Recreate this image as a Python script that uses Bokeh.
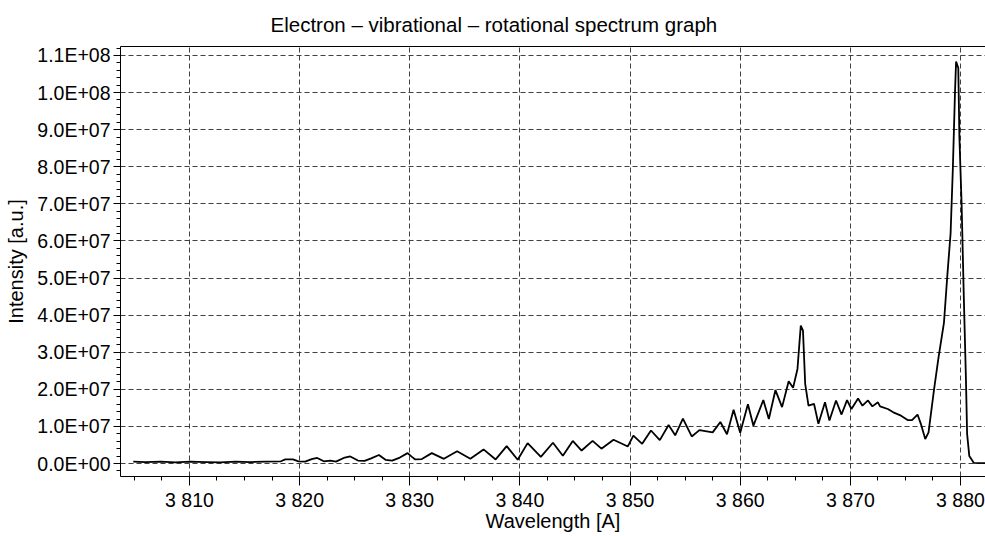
from bokeh.plotting import figure
from bokeh.models import FixedTicker, Range1d, LinearAxis
from bokeh.embed import file_html
from bokeh.resources import INLINE

# ---- data (wavelength in Angstrom, intensity in a.u.) ----
wavelength = [
    3804.9, 3806.0, 3807.4, 3808.7, 3810.1, 3811.5, 3812.8, 3814.2, 3815.5, 3816.9,
    3818.3, 3818.7, 3819.4, 3819.9, 3820.5, 3821.1, 3821.6, 3822.2, 3822.8, 3823.3,
    3824.0, 3824.6, 3825.3, 3825.9, 3826.5, 3827.2, 3827.8, 3828.4, 3829.1, 3829.8,
    3830.2, 3830.5, 3831.1, 3832.0, 3833.1, 3834.3, 3835.5, 3836.7, 3837.8, 3838.8,
    3839.8, 3840.7, 3841.9, 3843.0, 3843.9, 3844.8, 3845.6, 3846.6, 3847.4, 3848.5,
    3849.8, 3850.3, 3851.1, 3851.9, 3852.7, 3853.5, 3854.1, 3854.8, 3855.6, 3856.3,
    3857.5, 3858.2, 3858.8, 3859.4, 3860.0, 3860.7, 3861.2, 3862.1, 3862.6, 3863.2,
    3863.8, 3864.4, 3864.8, 3865.2, 3865.5, 3865.7, 3865.9, 3866.2, 3866.7, 3867.1,
    3867.7, 3868.1, 3868.7, 3869.2, 3869.7, 3870.1, 3870.7, 3871.1, 3871.6, 3872.0,
    3872.5, 3872.7, 3873.4, 3873.9, 3874.6, 3875.2, 3875.6, 3876.1, 3876.4, 3876.8,
    3877.1, 3877.6, 3878.0, 3878.5, 3878.8, 3879.1, 3879.3, 3879.5, 3879.6, 3879.8,
    3879.9, 3880.1, 3880.3, 3880.5, 3880.6, 3880.8, 3881.2, 3882.3,
]
intensity = [
    0.5e6, 0.4e6, 0.5e6, 0.3e6, 0.5e6, 0.4e6, 0.3e6, 0.5e6, 0.4e6, 0.5e6,
    0.6e6, 1.1e6, 1.1e6, 0.6e6, 0.5e6, 1.2e6, 1.5e6, 0.6e6, 0.8e6, 0.5e6,
    1.5e6, 1.9e6, 0.8e6, 0.7e6, 1.4e6, 2.3e6, 1.0e6, 0.8e6, 1.6e6, 2.8e6,
    1.8e6, 1.1e6, 1.2e6, 2.8e6, 1.26e6, 3.3e6, 1.26e6, 3.8e6, 1.1e6, 4.7e6,
    1.0e6, 5.5e6, 1.8e6, 5.6e6, 2.1e6, 6.1e6, 3.5e6, 6.1e6, 4.0e6, 6.4e6,
    4.6e6, 7.5e6, 5.3e6, 8.9e6, 6.3e6, 10.4e6, 7.6e6, 12.1e6, 7.3e6, 9.0e6,
    8.4e6, 11.2e6, 7.9e6, 14.5e6, 8.3e6, 16.0e6, 10.2e6, 17.1e6, 12.0e6, 19.8e6,
    15.2e6, 22.2e6, 20.4e6, 25.5e6, 37.2e6, 35.8e6, 21.5e6, 15.6e6, 16.1e6, 10.7e6,
    16.5e6, 11.6e6, 17.0e6, 13.2e6, 17.1e6, 14.7e6, 17.5e6, 15.6e6, 17.0e6, 15.4e6,
    16.5e6, 15.4e6, 14.7e6, 13.8e6, 12.9e6, 11.7e6, 11.7e6, 13.2e6, 10.7e6, 6.6e6,
    8.4e6, 20.0e6, 28.5e6, 38.0e6, 50.5e6, 62.0e6, 79.0e6, 100.0e6, 108.4e6, 106.6e6,
    88.0e6, 70.0e6, 45.0e6, 22.0e6, 8.0e6, 2.0e6, 0.2e6, 0.1e6,
]

x_ticks = [3810, 3820, 3830, 3840, 3850, 3860, 3870, 3880]
x_tick_labels = ["3 810", "3 820", "3 830", "3 840", "3 850", "3 860", "3 870", "3 880"]
x_minor_ticks = [3802.5 + 2.5 * i for i in range(33)]

y_ticks = [0, 10000000, 20000000, 30000000, 40000000, 50000000,
           60000000, 70000000, 80000000, 90000000, 100000000, 110000000]
y_tick_labels = ["0.0E+00", "1.0E+07", "2.0E+07", "3.0E+07", "4.0E+07", "5.0E+07",
                 "6.0E+07", "7.0E+07", "8.0E+07", "9.0E+07", "1.0E+08", "1.1E+08"]
y_minor_ticks = [-4000000 + 2000000 * i for i in range(60)]

title_text = "Electron \u2013 vibrational \u2013 rotational spectrum graph"
x_label = "Wavelength [A]"
y_label = "Intensity [a.u.]"

FONT = "Liberation Sans"

x_end = 3882.27
y_end = 1.1242e8

p = figure(width=985, height=536, output_backend="svg", toolbar_location=None,
           x_range=Range1d(3803.74, x_end), y_range=Range1d(-3.5e6, y_end),
           min_border_left=120, min_border_right=0, min_border_top=45,
           min_border_bottom=60, background_fill_color="white",
           border_fill_color="white", outline_line_color=None)

p.line(wavelength, intensity, line_color="black", line_width=1.8)

# the two real axes (taken before the extra top border axis is added)
xax = p.below[0]
yax = p.left[0]

xticker = FixedTicker(ticks=x_ticks, minor_ticks=x_minor_ticks)
yticker = FixedTicker(ticks=y_ticks, minor_ticks=y_minor_ticks)
xax.ticker = xticker
yax.ticker = yticker
xax.major_label_overrides = dict(zip(x_ticks, x_tick_labels))
yax.major_label_overrides = dict(zip(y_ticks, y_tick_labels))
p.xgrid.ticker = xticker
p.ygrid.ticker = yticker

# top frame border: a bare axis line above the frame (no ticks, no labels)
top_axis = LinearAxis(ticker=FixedTicker(ticks=[], minor_ticks=[]),
                      axis_line_color="black", axis_line_width=1,
                      major_tick_out=0, major_tick_in=0,
                      minor_tick_out=0, minor_tick_in=0,
                      major_tick_line_color=None, minor_tick_line_color=None,
                      major_label_standoff=0)
p.add_layout(top_axis, "above")

p.title.text = title_text
p.title.text_font = FONT
p.title.text_font_size = "20.5px"
p.title.text_font_style = "normal"
p.title.text_color = "black"
p.title.align = "left"
p.title.offset = 150
p.title.standoff = 21

for ax in (xax, yax):
    ax.axis_line_color = "black"
    ax.axis_line_width = 1
    ax.major_tick_line_color = "black"
    ax.minor_tick_line_color = "black"
    ax.major_tick_in = 0
    ax.minor_tick_in = 0
    ax.minor_tick_out = 4
    ax.major_label_text_font = FONT
    ax.major_label_text_font_size = "19.5px"
    ax.major_label_text_color = "black"
    ax.axis_label_text_font = FONT
    ax.axis_label_text_font_size = "20px"
    ax.axis_label_text_font_style = "normal"
    ax.axis_label_text_color = "black"

xax.major_tick_out = 9
yax.major_tick_out = 7
xax.major_label_standoff = 3
yax.major_label_standoff = 3
xax.axis_label = x_label
yax.axis_label = y_label
xax.axis_label_standoff = -4
yax.axis_label_standoff = 7

for g in (p.xgrid, p.ygrid):
    g.grid_line_color = "#404040"
    g.grid_line_dash = "5 3"
    g.grid_line_width = 1

open("out.html", "w").write(file_html(p, INLINE))
